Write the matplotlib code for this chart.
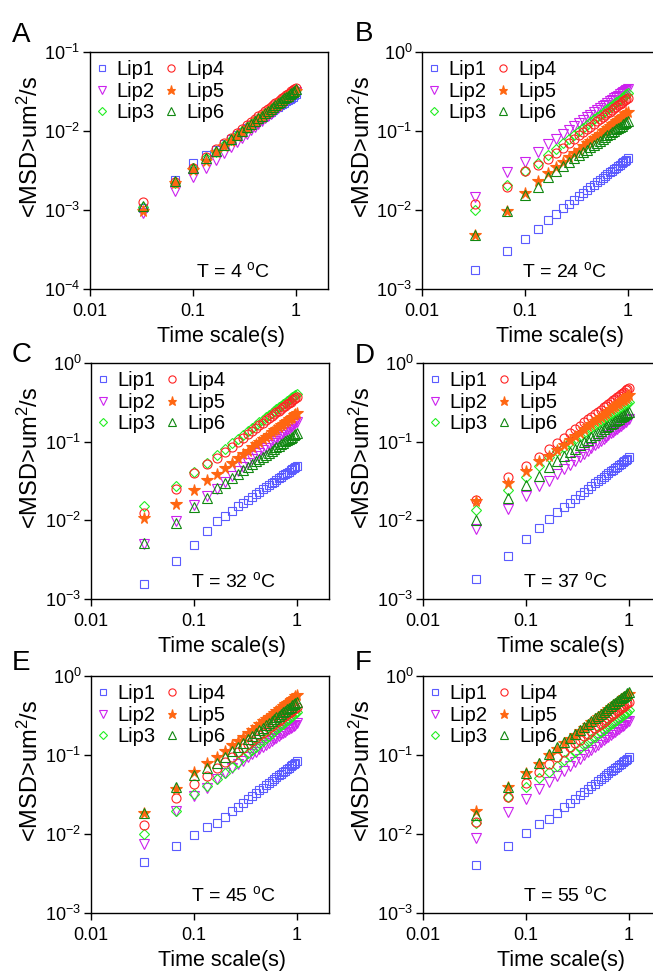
import matplotlib
matplotlib.use('Agg')
import numpy as np
import matplotlib.pyplot as plt

plt.rcParams['font.family'] = ['Liberation Sans', 'DejaVu Sans']
plt.rcParams['mathtext.fontset'] = 'custom'
plt.rcParams['mathtext.rm'] = 'Liberation Sans'

# lag times (s), 30 frames per second
time_s = [0.033, 0.067, 0.100, 0.133, 0.167, 0.200, 0.233, 0.267, 0.300, 0.333,
          0.367, 0.400, 0.433, 0.467, 0.500, 0.533, 0.567, 0.600, 0.633, 0.667,
          0.700, 0.733, 0.767, 0.800, 0.833, 0.867, 0.900, 0.933, 0.967, 1.000]

# <MSD> values, in units of 1e-3 um^2/s
# panel A, T = 4 C
a_lip1 = [1.05, 2.4, 3.98, 4.97, 5.8, 6.83, 7.85, 8.86, 9.84, 10.8, 11.8, 12.8, 13.7, 14.7, 15.6,
          16.5, 17.4, 18.4, 19.3, 20.2, 21.1, 22.0, 22.9, 23.8, 24.7, 25.6, 26.5, 27.3, 28.2, 29.1]
a_lip2 = [0.91, 1.76, 2.64, 3.37, 4.3, 5.25, 6.23, 7.21, 8.21, 9.21, 10.2, 11.3, 12.3, 13.3, 14.4,
          15.5, 16.5, 17.6, 18.7, 19.8, 20.8, 21.9, 23.0, 24.1, 25.3, 26.4, 27.5, 28.6, 29.7, 30.9]
a_lip3 = [1.1, 2.22, 3.37, 4.6, 5.5, 6.6, 7.7, 8.8, 9.9, 11.0, 12.1, 13.2, 14.3, 15.4, 16.5,
          17.6, 18.7, 19.8, 20.9, 22.0, 23.1, 24.2, 25.3, 26.4, 27.5, 28.6, 29.7, 30.8, 31.9, 33.0]
a_lip4 = [1.28, 2.25, 3.45, 4.7, 5.9, 7.08, 8.26, 9.44, 10.6, 11.8, 13.0, 14.2, 15.3, 16.5, 17.7,
          18.9, 20.1, 21.2, 22.4, 23.6, 24.8, 26.0, 27.1, 28.3, 29.5, 30.7, 31.9, 33.0, 34.2, 35.4]
a_lip5 = [0.98, 2.2, 3.2, 4.2, 5.4, 6.48, 7.56, 8.64, 9.72, 10.8, 11.9, 13.0, 14.0, 15.1, 16.2,
          17.3, 18.4, 19.4, 20.5, 21.6, 22.7, 23.8, 24.8, 25.9, 27.0, 28.1, 29.2, 30.2, 31.3, 32.4]
a_lip6 = [1.12, 2.3, 3.4, 4.6, 5.6, 6.72, 7.84, 8.96, 10.1, 11.2, 12.3, 13.4, 14.6, 15.7, 16.8,
          17.9, 19.0, 20.2, 21.3, 22.4, 23.5, 24.6, 25.8, 26.9, 28.0, 29.1, 30.2, 31.4, 32.5, 33.6]

# panel B, T = 24 C
b_lip1 = [1.75, 3.0, 4.3, 5.7, 7.5, 9.0, 10.5, 12.0, 13.5, 15.0, 16.5, 18.0, 19.5, 21.0, 22.5,
          24.0, 25.5, 27.0, 28.5, 30.0, 31.5, 33.0, 34.5, 36.0, 37.5, 39.0, 40.5, 42.0, 43.5, 45.0]
b_lip2 = [14.5, 30.5, 41, 54.7, 68, 80, 92, 104, 115, 127, 138, 150, 161, 172, 183,
          194, 205, 215, 226, 237, 247, 258, 269, 279, 290, 300, 310, 321, 331, 341]
b_lip3 = [10.0, 20.7, 31, 39, 50, 60, 70, 80, 90, 100, 110, 120, 130, 140, 150,
          160, 170, 180, 190, 200, 210, 220, 230, 240, 250, 260, 270, 280, 290, 300]
b_lip4 = [11.9, 19.8, 31.2, 37, 44, 52.8, 61.6, 70.4, 79.2, 88, 96.8, 106, 114, 123, 132,
          141, 150, 158, 167, 176, 185, 194, 202, 211, 220, 229, 238, 246, 255, 264]
b_lip5 = [4.85, 9.85, 16.6, 23.3, 29, 34.8, 40.6, 46.4, 52.2, 58, 63.8, 69.6, 75.4, 81.2, 87,
          92.8, 98.6, 104, 110, 116, 122, 128, 133, 139, 145, 151, 157, 162, 168, 174]
b_lip6 = [4.8, 9.6, 15.5, 19.8, 26.5, 31.2, 35.9, 40.5, 45.0, 49.4, 53.9, 58.3, 62.6, 66.9, 71.2,
          75.5, 79.7, 83.9, 88.1, 92.3, 96.4, 101, 105, 109, 113, 117, 121, 125, 129, 133]

# panel C, T = 32 C
c_lip1 = [1.57, 3.01, 4.91, 7.24, 9.8, 11.5, 13.3, 15.0, 16.6, 18.3, 19.9, 21.6, 23.2, 24.8, 26.3,
          27.9, 29.5, 31.0, 32.6, 34.1, 35.7, 37.2, 38.7, 40.2, 41.7, 43.2, 44.7, 46.2, 47.7, 49.2]
c_lip2 = [5.05, 9.7, 15.8, 20.2, 25, 30.6, 36.2, 41.9, 47.7, 53.6, 59.5, 65.5, 71.5, 77.6, 83.7,
          89.9, 96.1, 102, 109, 115, 121, 128, 134, 140, 147, 153, 160, 166, 173, 180]
c_lip3 = [15.4, 27.1, 40.8, 53.6, 68, 81.6, 95.2, 109, 122, 136, 150, 163, 177, 190, 204,
          218, 231, 245, 258, 272, 286, 299, 313, 326, 340, 354, 367, 381, 394, 408]
c_lip4 = [12.4, 25, 40, 52.5, 62, 74.4, 86.8, 99.2, 112, 124, 136, 149, 161, 174, 186,
          198, 211, 223, 236, 248, 260, 273, 285, 298, 310, 322, 335, 347, 360, 372]
c_lip5 = [10.7, 16.3, 24, 32.2, 38.5, 46.2, 53.9, 61.6, 69.3, 77, 84.7, 92.4, 100, 108, 116,
          123, 131, 139, 146, 154, 162, 169, 177, 185, 193, 200, 208, 216, 223, 231]
c_lip6 = [5.2, 9.25, 14.8, 19.2, 25.5, 30.0, 34.5, 38.9, 43.3, 47.6, 51.8, 56.1, 60.3, 64.4, 68.5,
          72.6, 76.7, 80.8, 84.8, 88.8, 92.8, 96.7, 101, 105, 109, 112, 116, 120, 124, 128]

# panel D, T = 37 C
d_lip1 = [1.8, 3.56, 5.85, 8.1, 10.5, 12.6, 14.7, 16.8, 18.9, 21.0, 23.1, 25.2, 27.3, 29.4, 31.5,
          33.6, 35.7, 37.8, 39.9, 42.0, 44.1, 46.2, 48.3, 50.4, 52.5, 54.6, 56.7, 58.8, 60.9, 63.0]
d_lip2 = [7.76, 13.9, 20.2, 27.6, 32, 38.4, 44.8, 51.2, 57.6, 64, 70.4, 76.8, 83.2, 89.6, 96,
          102, 109, 115, 122, 128, 134, 141, 147, 154, 160, 166, 173, 179, 186, 192]
d_lip3 = [13.7, 24.5, 35.6, 48.6, 64, 75.4, 86.7, 97.7, 109, 119, 130, 141, 151, 162, 172,
          182, 193, 203, 213, 223, 233, 243, 253, 263, 272, 282, 292, 302, 311, 321]
d_lip4 = [18.3, 35.2, 48.6, 63.8, 80, 96, 112, 128, 144, 160, 176, 192, 208, 224, 240,
          256, 272, 288, 304, 320, 336, 352, 368, 384, 400, 416, 432, 448, 464, 480]
d_lip5 = [17.5, 29.8, 42, 56, 65, 78, 91, 104, 117, 130, 143, 156, 169, 182, 195,
          208, 221, 234, 247, 260, 273, 286, 299, 312, 325, 338, 351, 364, 377, 390]
d_lip6 = [10.0, 19.2, 27.9, 36.3, 48, 56.5, 65.0, 73.3, 81.5, 89.6, 97.6, 106, 113, 121, 129,
          137, 144, 152, 160, 167, 175, 182, 190, 197, 204, 212, 219, 226, 234, 241]

# panel E, T = 45 C
e_lip1 = [4.43, 7.0, 9.85, 12.1, 13.8, 16.6, 19.3, 22.1, 24.8, 27.6, 30.4, 33.1, 35.9, 38.6, 41.4,
          44.2, 46.9, 49.7, 52.4, 55.2, 58.0, 60.7, 63.5, 66.2, 69.0, 71.8, 74.5, 77.3, 80.0, 82.8]
e_lip2 = [7.57, 19.6, 30.1, 37.7, 50, 58.9, 67.7, 76.4, 84.9, 93.3, 102, 110, 118, 126, 134,
          142, 150, 158, 166, 174, 182, 190, 197, 205, 213, 220, 228, 236, 243, 251]
e_lip3 = [10.1, 19.6, 31.9, 40.7, 49, 59.9, 71.0, 82.2, 93.5, 105, 117, 128, 140, 152, 164,
          176, 188, 201, 213, 225, 238, 250, 263, 275, 288, 300, 313, 326, 339, 352]
e_lip4 = [12.9, 28.2, 42.8, 54.6, 68, 81.6, 95.2, 109, 122, 136, 150, 163, 177, 190, 204,
          218, 231, 245, 258, 272, 286, 299, 313, 326, 340, 354, 367, 381, 394, 408]
e_lip5 = [18.7, 36.6, 61.3, 79.8, 95, 114, 133, 152, 171, 190, 209, 228, 247, 266, 285,
          304, 323, 342, 361, 380, 399, 418, 437, 456, 475, 494, 513, 532, 551, 570]
e_lip6 = [18.2, 39.6, 55.6, 67.6, 79, 94.8, 111, 126, 142, 158, 174, 190, 205, 221, 237,
          253, 269, 284, 300, 316, 332, 348, 363, 379, 395, 411, 427, 442, 458, 474]

# panel F, T = 55 C
f_lip1 = [4.05, 7.05, 10.4, 13.2, 15.5, 18.6, 21.7, 24.8, 27.9, 31.0, 34.1, 37.2, 40.3, 43.4, 46.5,
          49.6, 52.7, 55.8, 58.9, 62.0, 65.1, 68.2, 71.3, 74.4, 77.5, 80.6, 83.7, 86.8, 89.9, 93.0]
f_lip2 = [9.0, 19.2, 27.5, 36.7, 45, 54, 63, 72, 81, 90, 99, 108, 117, 126, 135,
          144, 153, 162, 171, 180, 189, 198, 207, 216, 225, 234, 243, 252, 261, 270]
f_lip3 = [13.9, 29.1, 39.7, 50.7, 61, 73.2, 85.4, 97.6, 110, 122, 134, 146, 159, 171, 183,
          195, 207, 220, 232, 244, 256, 268, 281, 293, 305, 317, 329, 342, 354, 366]
f_lip4 = [14.3, 29.7, 44.7, 60.4, 78, 93.6, 109, 125, 140, 156, 172, 187, 203, 218, 234,
          250, 265, 281, 296, 312, 328, 343, 359, 374, 390, 406, 421, 437, 452, 468]
f_lip5 = [19.7, 39.7, 59.7, 76.9, 100, 120, 140, 160, 180, 200, 220, 240, 260, 280, 300,
          320, 340, 360, 380, 400, 420, 440, 460, 480, 500, 520, 540, 560, 580, 600]
f_lip6 = [17.4, 39.7, 59.7, 78.5, 104, 125, 146, 166, 187, 208, 229, 250, 270, 291, 312,
          333, 354, 374, 395, 416, 437, 458, 478, 499, 520, 541, 562, 582, 603, 624]

series_names = ['Lip1', 'Lip2', 'Lip3', 'Lip4', 'Lip5', 'Lip6']
panel_letters = ['A', 'B', 'C', 'D', 'E', 'F']
temperatures = [4, 24, 32, 37, 45, 55]
x_ticks = [0.01, 0.1, 1]
x_tick_labels = ['0.01', '0.1', '1']

panel_data = [
    [a_lip1, a_lip2, a_lip3, a_lip4, a_lip5, a_lip6],
    [b_lip1, b_lip2, b_lip3, b_lip4, b_lip5, b_lip6],
    [c_lip1, c_lip2, c_lip3, c_lip4, c_lip5, c_lip6],
    [d_lip1, d_lip2, d_lip3, d_lip4, d_lip5, d_lip6],
    [e_lip1, e_lip2, e_lip3, e_lip4, e_lip5, e_lip6],
    [f_lip1, f_lip2, f_lip3, f_lip4, f_lip5, f_lip6],
]
y_ranges = [(-4, -1), (-3, 0), (-3, 0), (-3, 0), (-3, 0), (-3, 0)]

# marker styles per liposome
colors = ['#5B5BFF', '#CC22EE', '#22EE22', '#FF2222', '#FF6611', '#118811']
markers = ['s', 'v', 'D', 'o', '*', '^']
sizes = [6, 6.5, 5, 6.5, 8.5, 6.5]
filled = [False, False, False, False, True, False]

W, H = 653, 971
fig = plt.figure(figsize=(W / 100, H / 100), dpi=100)

# axes boxes in pixels: left, top, width, height
boxes = [(90, 52, 238, 237), (422, 52, 238, 237),
         (91, 363, 238, 236), (423, 363, 238, 236),
         (91, 676, 238, 237), (423, 676, 238, 237)]
letter_pos = [(12, 42), (355, 41), (12, 362), (355, 363), (12, 670), (355, 670)]

for i in range(6):
    l, t, w, h = boxes[i]
    ax = fig.add_axes([l / W, 1 - (t + h) / H, w / W, h / H])
    t_arr = np.array(time_s)
    for j in range(6):
        y = np.array(panel_data[i][j]) * 1e-3
        face = colors[j] if filled[j] else 'none'
        ax.plot(t_arr, y, linestyle='none', marker=markers[j], ms=sizes[j],
                mfc=face, mec=colors[j], mew=0.8, label=series_names[j])
    ax.set_xscale('log')
    ax.set_yscale('log')
    ax.set_xlim(0.01, 2.05)
    lo, hi = y_ranges[i]
    ax.set_ylim(10.0 ** lo, 10.0 ** hi)
    ax.set_xticks(x_ticks)
    ax.set_xticklabels(x_tick_labels)
    yt = [10.0 ** k for k in range(lo, hi + 1)]
    ax.set_yticks(yt)
    ax.set_yticklabels([r'$\mathregular{10^{%d}}$' % k for k in range(lo, hi + 1)])
    ax.minorticks_off()
    ax.tick_params(axis='both', direction='out', length=5, width=1, labelsize=13,
                   top=False, right=False)
    ax.tick_params(axis='x', pad=5)
    ax.tick_params(axis='y', pad=2)
    for sp in ax.spines.values():
        sp.set_linewidth(1.0)

    ax.set_ylabel(r'<MSD>um$\mathregular{^2}$/s', fontsize=17)
    ax.yaxis.set_label_coords(-0.2, 0.6)
    ax.set_xlabel('Time scale(s)', fontsize=15.5)
    ax.xaxis.set_label_coords(0.55 if i % 2 == 0 else 0.58, -0.155)
    ax.xaxis.label.set_va('top')

    ax.legend(ncol=2, loc='upper left', bbox_to_anchor=(0.015, 0.965), frameon=False,
              fontsize=14.5, handlelength=0.8, handletextpad=0.35, columnspacing=0.4,
              labelspacing=0.12, borderaxespad=0, borderpad=0, numpoints=1,
              markerscale=0.8)
    ax.text(0.6, 0.075, r'T = %d $\mathregular{^o}$C' % temperatures[i],
            transform=ax.transAxes, ha='center', va='center', fontsize=14)

    lx, ly = letter_pos[i]
    fig.text(lx / W, 1 - ly / H, panel_letters[i], fontsize=20, va='baseline')

fig.savefig('out.png', dpi=100)
